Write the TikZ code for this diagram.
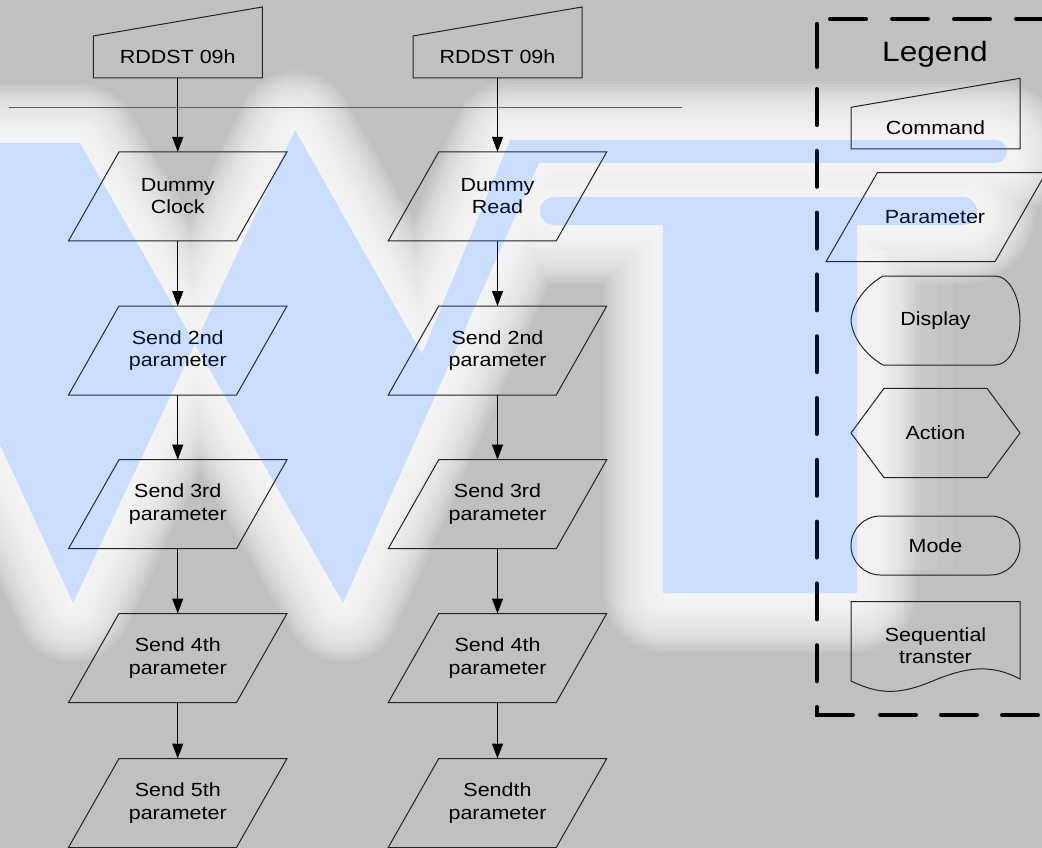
\documentclass[tikz,border=0pt]{standalone}
\usepackage{fontspec}
\setmainfont[FakeStretch=1.13]{Liberation Sans}
\usetikzlibrary{arrows.meta}
\definecolor{bggrey}{RGB}{192,192,192}
\definecolor{wmblue}{RGB}{0,90,255}
\definecolor{lncol}{RGB}{35,35,35}
\definecolor{sepcol}{RGB}{95,95,95}
\def\wmA{(-139,143) -- (80,143) -- (195,344) -- (73,603) -- cycle}
\def\wmB{(195,344) -- (295,130) -- (422,354) -- (510,140) -- (995.5,140) arc[start angle=-90,end angle=90,radius=11.5] -- (539,163) -- (343,603) -- cycle}
\def\wmC{(554,197) -- (963,197) arc[start angle=-90,end angle=90,radius=14] -- (857,225) -- (857,593) -- (663,593) -- (663,225) -- (554,225) arc[start angle=90,end angle=270,radius=14] -- cycle}
\newcommand\drawprl[1]{\draw[shp] ([xshift=-109.25pt]#1.south) -- ([xshift=58.75pt]#1.south) -- ([xshift=109.25pt]#1.north) -- ([xshift=-58.75pt]#1.north) -- cycle;}
\newcommand\drawcmd[1]{\draw[shp] (#1.south west) -- (#1.south east) -- ([yshift=29pt]#1.north east) -- (#1.north west) -- cycle;}
\begin{document}
\begin{tikzpicture}[x=1pt,y=-1pt,
  shp/.style={draw=lncol,line width=1pt,line join=miter},
  txt/.style={font=\fontsize{19}{22.3}\selectfont,align=center,text=black},
  pbox/.style={txt,inner sep=0pt,outer sep=0pt,minimum width=168,minimum height=89},
  cbox/.style={txt,inner sep=0pt,outer sep=0pt,minimum width=169,minimum height=42},
  arr/.style={draw=black,line width=1pt,-{Triangle[length=15pt,width=11pt]}},
  legframe/.style={draw=black,line width=4pt,line cap=round}]
\useasboundingbox (0,0) rectangle (1042,848);
\begin{scope}
\clip (0,0) rectangle (1042,848);
\fill[bggrey] (0,0) rectangle (1042,848);
% watermark glow
\foreach \i in {1,...,19}{
  \draw[white,line width=6.2*\i pt,line join=round,draw opacity=0.11] \wmA \wmB \wmC;
}
\foreach \i in {1,...,6}{
  \draw[white,line width=32*\i pt,line cap=butt,draw opacity=0.07] (857,250) -- (857,570);
}
\fill[white] \wmA \wmB \wmC;

% separator
\draw[sepcol,line width=1.4pt] (9,107.7) -- (682,107.7);

% command boxes
\node[cbox] (cmdL) at (177.75,57) {RDDST 09h};
\node[cbox] (cmdR) at (497.5,57) {RDDST 09h};
\drawcmd{cmdL}
\drawcmd{cmdR}

% left column
\node[pbox] (pL1) at (177.75,196.4) {Dummy\\Clock};
\node[pbox] (pL2) at (177.75,350.5) {Send 2nd\\parameter};
\node[pbox] (pL3) at (177.75,504.2) {Send 3rd\\parameter};
\node[pbox] (pL4) at (177.75,658) {Send 4th\\parameter};
\node[pbox] (pL5) at (177.75,803) {Send 5th\\parameter};
% right column
\node[pbox] (pR1) at (497.5,196.4) {Dummy\\Read};
\node[pbox] (pR2) at (497.5,350.5) {Send 2nd\\parameter};
\node[pbox] (pR3) at (497.5,504.2) {Send 3rd\\parameter};
\node[pbox] (pR4) at (497.5,658) {Send 4th\\parameter};
\node[pbox] (pR5) at (497.5,803) {Sendth\\parameter};
\foreach \n in {pL1,pL2,pL3,pL4,pL5,pR1,pR2,pR3,pR4,pR5}{\drawprl{\n}}

\draw[arr] (cmdL) -- (pL1);
\draw[arr] (pL1) -- (pL2);
\draw[arr] (pL2) -- (pL3);
\draw[arr] (pL3) -- (pL4);
\draw[arr] (pL4) -- (pL5);
\draw[arr] (cmdR) -- (pR1);
\draw[arr] (pR1) -- (pR2);
\draw[arr] (pR2) -- (pR3);
\draw[arr] (pR3) -- (pR4);
\draw[arr] (pR4) -- (pR5);

% legend
\node[font=\fontsize{28}{32}\selectfont] (legT) at (935,54) {Legend};
\draw[shp] (851,107.3) -- (1020,78.3) -- (1020,149) -- (851,149) -- cycle;
\node[txt] (lgCmd) at (935.5,128) {Command};
\draw[shp] (826,261.7) -- (995,261.7) -- (1046,172.7) -- (877.3,172.7) -- cycle;
\node[txt] (lgPar) at (935,217) {Parameter};
\draw[shp] (883,276) -- (995,276) .. controls (1008.8,276) and (1020,296) .. (1020,320.5)
  .. controls (1020,345) and (1008.8,365) .. (995,365) -- (883,365)
  .. controls (864,354) and (852,336) .. (851,320.5)
  .. controls (852,305) and (864,287) .. (883,276) -- cycle;
\node[txt] (lgDis) at (935.5,320.5) {Display};
\draw[shp] (851,433) -- (884,388.3) -- (987,388.3) -- (1020,433) -- (987,477.7) -- (884,477.7) -- cycle;
\node[txt] (lgAct) at (935.5,433) {Action};
\draw[shp,rounded corners=29.5pt] (851,516) rectangle (1020,575);
\node[txt] (lgMod) at (935.5,545.5) {Mode};
\draw[shp] (851,601.7) -- (1020,601.7) -- (1020,679)
  .. controls (990,663) and (965,668) .. (935,680)
  .. controls (900,695) and (880,695) .. (851,681) -- cycle;
\node[txt] (lgSeq) at (935.5,645.5) {Sequential\\transter};

% legend frame
\draw[legframe] (816.7,24) -- (816.7,67);
\draw[legframe,dash pattern=on 36pt off 25.8pt] (816.7,89) -- (816.7,700);
\draw[legframe,line cap=round,line join=miter] (816.7,707) -- (816.7,715) -- (853,715);
\draw[legframe,dash pattern=on 36pt off 25pt] (880,715) -- (1060,715);
\draw[legframe,dash pattern=on 36pt off 26pt] (830,19) -- (1060,19);

% watermark tint
\fill[wmblue,fill opacity=0.2] \wmA \wmB \wmC;
\end{scope}
\end{tikzpicture}
\end{document}
